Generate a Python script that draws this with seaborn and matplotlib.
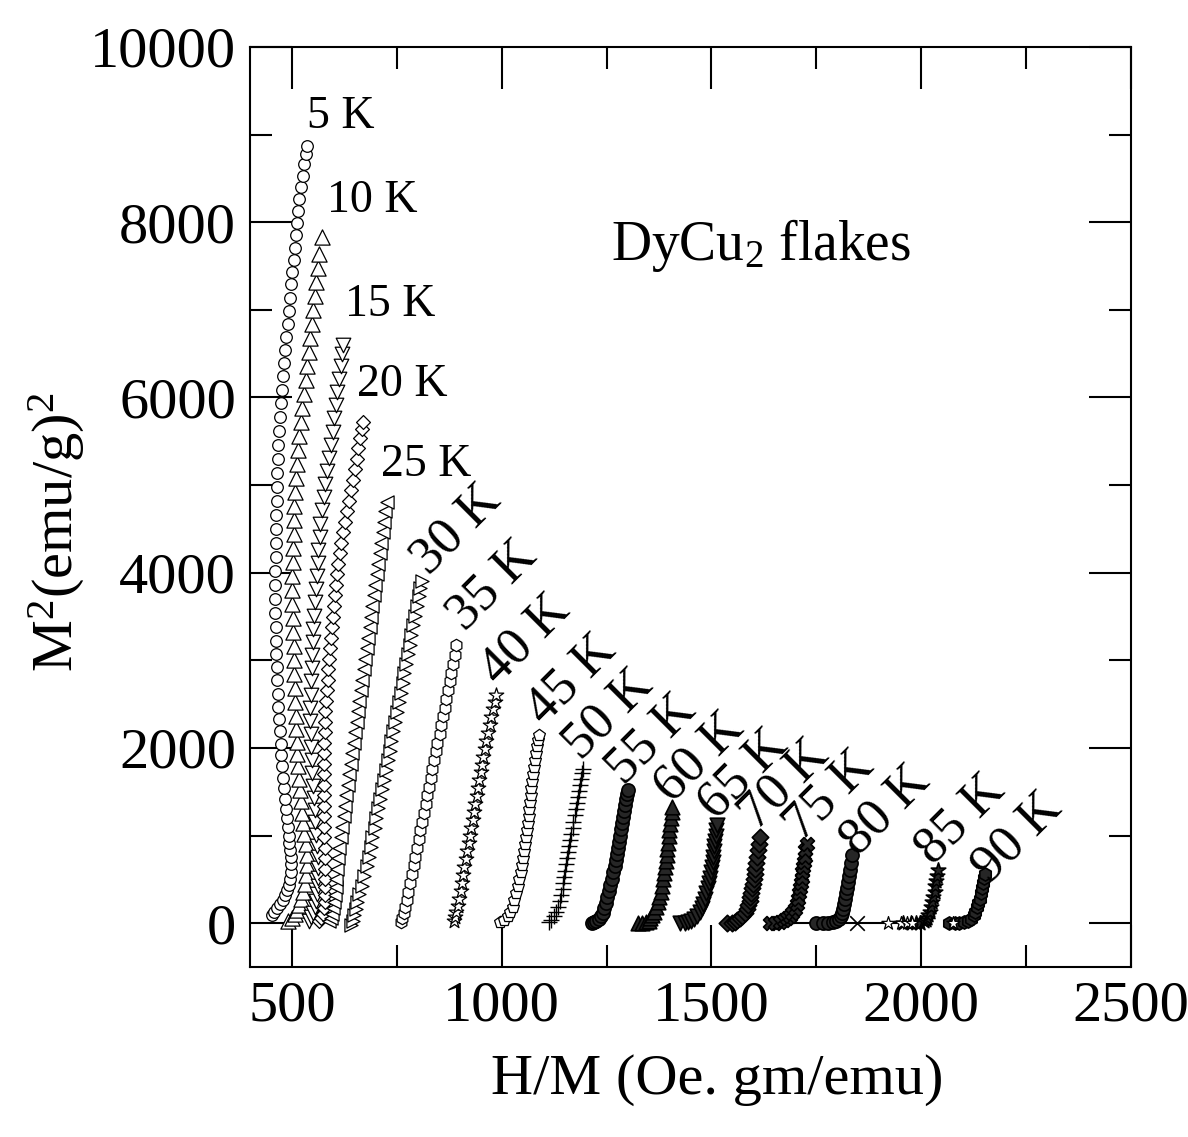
import matplotlib
matplotlib.use('Agg')
import matplotlib.pyplot as plt
import seaborn as sns
from matplotlib.ticker import MultipleLocator

# ---- data: H/M (x) and M^2 (y) for each temperature ----
x_5K = [452, 458, 464, 471, 478, 484, 489, 493, 496, 497,
        497, 497, 496, 494, 492, 490, 488, 486, 483, 481,
        479, 477, 475, 473, 471, 469, 467, 466, 465, 464,
        463, 462, 461, 460, 460, 460, 460, 461, 462, 463,
        463, 464, 464, 465, 466, 468, 470, 472, 474, 476,
        478, 481, 484, 487, 490, 493, 496, 498, 501, 504,
        507, 509, 512, 514, 517, 521, 526, 530, 533, 536]
y_5K = [90, 130, 170, 220, 270, 320, 380, 440, 510, 590,
        670, 750, 830, 910, 1000, 1100, 1200, 1300, 1420, 1540,
        1660, 1790, 1920, 2050, 2190, 2330, 2470, 2620, 2770, 2920,
        3070, 3220, 3380, 3540, 3700, 3860, 4020, 4180, 4340, 4500,
        4660, 4820, 4980, 5140, 5300, 5460, 5620, 5780, 5940, 6090,
        6240, 6390, 6540, 6690, 6840, 6990, 7140, 7290, 7430, 7570,
        7710, 7850, 7990, 8130, 8270, 8400, 8530, 8660, 8780, 8870]

x_10K = [490, 500, 507, 513, 518, 522, 527, 531, 534, 536,
         536, 533, 530, 527, 524, 521, 519, 517, 515, 513,
         512, 510, 509, 508, 507, 506, 505, 504, 503, 502,
         501, 501, 501, 502, 503, 504, 505, 506, 508, 510,
         512, 515, 518, 522, 525, 528, 533, 537, 540, 543,
         547, 551, 555, 558, 561, 565, 571]
y_10K = [30, 60, 100, 150, 210, 280, 360, 450, 550, 660,
         780, 900, 1020, 1140, 1260, 1390, 1520, 1650, 1790, 1930,
         2070, 2220, 2370, 2520, 2680, 2840, 3000, 3160, 3320, 3480,
         3640, 3800, 3960, 4120, 4280, 4440, 4600, 4760, 4920, 5080,
         5240, 5400, 5560, 5720, 5880, 6040, 6200, 6360, 6520, 6680,
         6840, 7000, 7160, 7320, 7480, 7640, 7835]

x_15K = [540, 546, 551, 555, 558, 560, 562, 562, 562, 561,
         560, 558, 556, 554, 552, 550, 548, 547, 546, 545,
         544, 544, 545, 546, 547, 548, 550, 551, 553, 555,
         557, 559, 561, 563, 566, 568, 572, 576, 580, 584,
         588, 593, 597, 600, 604, 608, 612, 616, 619, 621]
y_15K = [30, 70, 120, 180, 250, 330, 420, 520, 630, 750,
         880, 1010, 1150, 1290, 1430, 1570, 1710, 1860, 2010, 2160,
         2310, 2460, 2610, 2760, 2910, 3060, 3210, 3360, 3510, 3660,
         3810, 3960, 4110, 4260, 4410, 4560, 4710, 4860, 5010, 5160,
         5310, 5460, 5610, 5760, 5910, 6060, 6210, 6360, 6500, 6600]

x_20K = [565, 570, 574, 577, 579, 580, 580, 580, 580, 579,
         578, 577, 576, 576, 576, 576, 576, 576, 576, 577,
         577, 578, 579, 580, 582, 583, 585, 587, 589, 591,
         594, 596, 599, 601, 603, 606, 608, 611, 614, 617,
         621, 626, 631, 636, 641, 646, 650, 654, 658, 662,
         666, 669]
y_20K = [20, 60, 110, 170, 240, 320, 410, 510, 620, 740,
         860, 980, 1100, 1220, 1340, 1460, 1580, 1700, 1820, 1940,
         2060, 2180, 2300, 2420, 2540, 2660, 2780, 2900, 3020, 3140,
         3260, 3380, 3500, 3620, 3740, 3860, 3980, 4100, 4220, 4340,
         4460, 4580, 4700, 4820, 4940, 5060, 5180, 5300, 5420, 5540,
         5640, 5723]

x_25K = [588, 593, 596, 599, 601, 603, 605, 606, 608, 610,
         612, 616, 619, 623, 626, 630, 633, 637, 640, 643,
         647, 650, 654, 657, 661, 664, 668, 671, 674, 678,
         681, 685, 688, 692, 695, 699, 702, 706, 709, 712,
         716, 719, 723, 726]
y_25K = [20, 60, 110, 170, 240, 320, 410, 510, 620, 740,
         860, 980, 1100, 1220, 1340, 1460, 1580, 1700, 1820, 1940,
         2060, 2180, 2300, 2420, 2540, 2660, 2780, 2900, 3020, 3140,
         3260, 3380, 3500, 3620, 3740, 3860, 3980, 4100, 4220, 4340,
         4460, 4580, 4700, 4810]

x_30K = [642, 645, 648, 652, 656, 661, 666, 672, 678, 683,
         688, 692, 697, 701, 706, 711, 715, 720, 724, 728,
         733, 737, 742, 746, 750, 755, 759, 764, 768, 772,
         777, 781, 785, 789, 794, 798, 802, 806, 809]
y_30K = [-20, 30, 90, 160, 240, 330, 430, 540, 650, 760,
         870, 980, 1090, 1200, 1310, 1420, 1530, 1640, 1750, 1860,
         1970, 2080, 2190, 2300, 2410, 2520, 2630, 2740, 2850, 2960,
         3070, 3180, 3290, 3400, 3510, 3620, 3730, 3830, 3900]

x_35K = [760, 763, 766, 770, 774, 777, 782, 786, 790, 794,
         798, 802, 806, 810, 814, 819, 823, 827, 831, 835,
         839, 843, 847, 852, 856, 860, 864, 868, 872, 876,
         880, 884, 888, 892]
y_35K = [10, 60, 120, 190, 270, 360, 460, 560, 660, 760,
         860, 960, 1060, 1160, 1260, 1360, 1460, 1560, 1660, 1760,
         1860, 1960, 2060, 2160, 2260, 2360, 2460, 2560, 2660, 2760,
         2860, 2960, 3060, 3170]

x_40K = [886, 889, 892, 895, 899, 902, 905, 908, 911, 915,
         918, 921, 924, 927, 931, 934, 937, 940, 943, 947,
         950, 953, 956, 960, 963, 967, 971, 975, 979, 983, 987]
y_40K = [20, 70, 130, 200, 280, 370, 460, 550, 640, 730,
         820, 910, 1000, 1090, 1180, 1270, 1360, 1450, 1540, 1630,
         1720, 1810, 1900, 1990, 2080, 2170, 2260, 2350, 2440, 2530, 2600]

x_45K = [995, 1005, 1014, 1021, 1026, 1030, 1035, 1039, 1042, 1045,
         1048, 1051, 1053, 1055, 1058, 1060, 1062, 1064, 1066, 1067,
         1069, 1071, 1073, 1075, 1077, 1080, 1082, 1085, 1087, 1090]
y_45K = [10, 40, 80, 130, 190, 260, 340, 420, 500, 580,
         660, 740, 820, 900, 980, 1060, 1140, 1220, 1300, 1380,
         1460, 1540, 1620, 1700, 1780, 1860, 1940, 2020, 2090, 2145]

x_50K = [1112, 1118, 1124, 1130, 1135, 1139, 1142, 1145, 1147, 1149,
         1151, 1154, 1156, 1159, 1161, 1164, 1166, 1169, 1171, 1174,
         1177, 1179, 1181, 1184, 1186, 1189, 1191, 1193]
y_50K = [10, 40, 80, 130, 190, 250, 320, 390, 460, 530,
         600, 670, 740, 810, 880, 950, 1020, 1090, 1160, 1230,
         1300, 1370, 1440, 1510, 1580, 1650, 1710, 1765]

x_55K = [1215, 1220, 1226, 1232, 1237, 1241, 1244, 1248, 1252, 1256,
         1259, 1262, 1266, 1269, 1272, 1274, 1277, 1280, 1282, 1284,
         1287, 1289, 1292, 1294, 1296, 1298, 1300]
y_55K = [5, 15, 30, 50, 80, 120, 170, 230, 300, 370,
         440, 510, 580, 650, 720, 790, 860, 930, 1000, 1070,
         1140, 1210, 1280, 1350, 1420, 1480, 1517]

x_60K = [1326, 1335, 1343, 1350, 1354, 1358, 1363, 1368, 1372, 1376,
         1379, 1382, 1385, 1388, 1390, 1392, 1393, 1395, 1397, 1398,
         1400, 1401, 1403, 1405, 1406]
y_60K = [0, 5, 15, 30, 55, 90, 130, 180, 240, 300,
         360, 430, 500, 570, 640, 710, 780, 850, 920, 990,
         1060, 1130, 1200, 1270, 1328]

x_65K = [1426, 1436, 1445, 1452, 1458, 1465, 1472, 1477, 1481, 1485,
         1488, 1491, 1494, 1496, 1499, 1501, 1503, 1504, 1506, 1507,
         1509, 1510, 1512, 1513]
y_65K = [0, 5, 15, 30, 53, 85, 125, 170, 220, 280,
         340, 400, 460, 520, 580, 640, 700, 760, 820, 880,
         940, 1000, 1060, 1118]

x_70K = [1537, 1548, 1555, 1561, 1568, 1574, 1580, 1584, 1588, 1591,
         1593, 1595, 1597, 1599, 1601, 1603, 1604, 1606, 1608, 1611,
         1613, 1616]
y_70K = [0, 5, 15, 33, 55, 85, 120, 160, 204, 250,
         300, 350, 400, 450, 500, 560, 623, 690, 760, 830,
         900, 985]

x_75K = [1640, 1652, 1663, 1672, 1680, 1687, 1693, 1699, 1703, 1706,
         1709, 1711, 1713, 1715, 1717, 1719, 1720, 1722, 1724, 1727]
y_75K = [0, 5, 15, 33, 55, 85, 120, 167, 220, 280,
         340, 400, 460, 520, 580, 640, 700, 760, 830, 909]

x_80K = [1750, 1765, 1778, 1790, 1798, 1804, 1808, 1811, 1814, 1816,
         1818, 1821, 1824, 1826, 1828, 1830, 1832, 1834]
y_80K = [0, 3, 8, 15, 30, 50, 80, 120, 167, 220,
         280, 340, 400, 471, 540, 610, 690, 775]

x_85K = [1957, 1975, 1988, 1998, 2006, 2011, 2014, 2016, 2020, 2023,
         2026, 2029, 2032, 2034, 2036, 2038, 2040]
y_85K = [0, 0, 3, 8, 20, 40, 65, 90, 130, 180,
         240, 300, 357, 420, 480, 540, 604]

x_90K = [2067, 2080, 2091, 2102, 2111, 2119, 2125, 2129, 2133, 2136,
         2139, 2142, 2145, 2147, 2149, 2151]
y_90K = [0, 0, 3, 10, 25, 53, 90, 130, 180, 230,
         281, 340, 400, 460, 520, 566]

# low-field points lying on the M^2 = 0 line
base_x = [1650, 1760, 1846, 1921, 1990]
base_y = [0, 0, 0, 0, 0]
stray_cross_x, stray_cross_y = [1846], [0]
stray_star_x, stray_star_y = [1921, 1953, 1966, 1979, 2075], [0, 0, 0, 0, 0]

temps = ['5 K', '10 K', '15 K', '20 K', '25 K', '30 K', '35 K', '40 K', '45 K',
         '50 K', '55 K', '60 K', '65 K', '70 K', '75 K', '80 K', '85 K', '90 K']

# label anchor (baseline start) for each temperature
label_x = [536, 583, 626, 654, 713, 825, 912, 991, 1100,
           1189, 1291, 1405, 1509, 1608, 1715, 1849, 2028, 2164]
label_y = [9070, 8122, 6925, 6012, 5099, 3972, 3325, 2716, 2250,
           1860, 1574, 1365, 1175, 1061, 928, 757, 661, 452]

# ---- styling ----
sns.set_style('ticks')
plt.rcParams['font.family'] = ['Liberation Serif', 'DejaVu Serif']
plt.rcParams['mathtext.fontset'] = 'custom'
plt.rcParams['mathtext.rm'] = 'Liberation Serif'
plt.rcParams['mathtext.it'] = 'Liberation Serif:italic'
for k in ['text.color', 'axes.labelcolor', 'xtick.color', 'ytick.color', 'axes.edgecolor']:
    plt.rcParams[k] = 'black'

fig = plt.figure(figsize=(11.88, 11.37), dpi=100)
ax = fig.add_axes([0.2104, 0.1495, 0.7416, 0.8092])

# (x, y, marker, size, edge width, face colour)
series = [
    (x_5K, y_5K, 'o', 70, 0.9, 'white'), (x_10K, y_10K, '^', 120, 0.9, 'white'),
    (x_15K, y_15K, 'v', 110, 0.9, 'white'), (x_20K, y_20K, 'D', 50, 0.9, 'white'),
    (x_25K, y_25K, '<', 90, 0.9, 'white'), (x_30K, y_30K, '>', 90, 0.9, 'white'),
    (x_35K, y_35K, 'h', 80, 0.9, 'white'), (x_40K, y_40K, '*', 120, 0.9, 'white'),
    (x_45K, y_45K, 'p', 80, 0.9, 'white'), (x_50K, y_50K, '+', 120, 1.0, 'black'),
    (x_55K, y_55K, 'o', 90, 1.2, '0.15'), (x_60K, y_60K, '^', 110, 1.2, '0.15'),
    (x_65K, y_65K, 'v', 110, 1.2, '0.15'), (x_70K, y_70K, 'D', 70, 1.2, '0.15'),
    (x_75K, y_75K, 'X', 100, 1.2, '0.15'), (x_80K, y_80K, 'o', 90, 1.2, '0.15'),
    (x_85K, y_85K, '*', 120, 1.2, '0.15'), (x_90K, y_90K, 'h', 90, 1.2, '0.15'),
]

sns.lineplot(x=base_x, y=base_y, sort=False, estimator=None, color='black',
             lw=1.5, ax=ax)

for xs, ys, m, s, lw, fc in series:
    if m == '+':
        sns.scatterplot(x=xs, y=ys, marker=m, s=s, color='black',
                        linewidth=lw, ax=ax, zorder=3)
    else:
        sns.scatterplot(x=xs, y=ys, marker=m, s=s, facecolor=fc,
                        edgecolor='black', linewidth=lw, ax=ax, zorder=3)

sns.scatterplot(x=stray_cross_x, y=stray_cross_y, marker='x', s=110,
                color='black', linewidth=1.2, ax=ax, zorder=3)
sns.scatterplot(x=stray_star_x, y=stray_star_y, marker='*', s=100,
                facecolor='white', edgecolor='black', linewidth=0.9, ax=ax, zorder=3)

for i, t in enumerate(temps):
    if i < 5:
        ax.text(label_x[i], label_y[i], t, fontsize=33, ha='left', va='baseline')
    else:
        ax.text(label_x[i], label_y[i], t, fontsize=38, ha='left', va='baseline',
                rotation=45, rotation_mode='anchor')

ax.text(1260, 7564, r'DyCu$_2$ flakes', fontsize=40, ha='left', va='baseline')

ax.set_xlim(400, 2500)
ax.set_ylim(-500, 10000)
ax.set_xticks([500, 1000, 1500, 2000, 2500])
ax.set_yticks([0, 2000, 4000, 6000, 8000, 10000])
ax.xaxis.set_minor_locator(MultipleLocator(250))
ax.yaxis.set_minor_locator(MultipleLocator(1000))
ax.tick_params(which='both', direction='in', top=True, right=True,
               width=1.5, labelsize=42, pad=10)
ax.tick_params(which='major', length=30)
ax.tick_params(which='minor', length=16)
for sp in ax.spines.values():
    sp.set_linewidth(1.5)

ax.set_xlabel('H/M (Oe. gm/emu)', fontsize=42)
ax.set_ylabel(r'M$^2$(emu/g)$^2$', fontsize=42)
ax.xaxis.set_label_coords(0.53, -0.095)
ax.yaxis.set_label_coords(-0.185, 0.473)

fig.savefig('out.png', dpi=100)
